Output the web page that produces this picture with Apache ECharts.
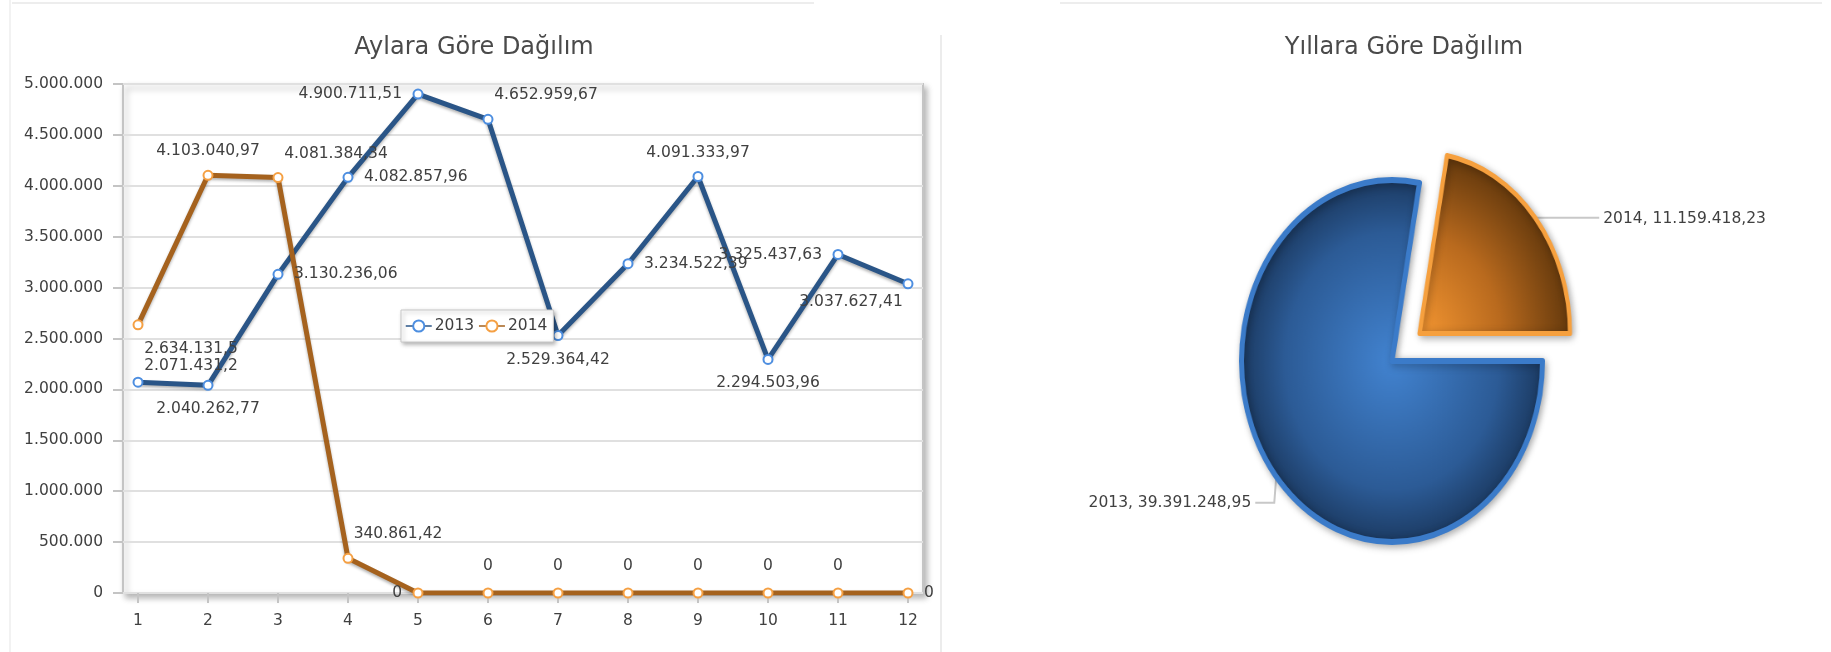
<!DOCTYPE html>
<html>
<head>
<meta charset="utf-8">
<script src="https://cdn.jsdelivr.net/npm/echarts@6/dist/echarts.min.js"></script>
<style>
  html, body { margin: 0; padding: 0; background: #fff; }
  #main { position: absolute; left: 0; top: 0; width: 1831px; height: 652px; }
  #pie { position: absolute; left: 1092px; top: 111px; width: 600px; height: 500px;
         transform: scaleX(0.8315); transform-origin: 50% 50%; }
</style>
</head>
<body>
<div id="main"></div>
<div id="pie"></div>
<script>
// ---------------- data ----------------
const months = ['1', '2', '3', '4', '5', '6', '7', '8', '9', '10', '11', '12'];
const sales2013 = [2071431.2, 2040262.77, 3130236.06, 4082857.96, 4900711.51, 4652959.67,
                   2529364.42, 3234522.39, 4091333.97, 2294503.96, 3325437.63, 3037627.41];
const sales2014 = [2634131.5, 4103040.97, 4081384.34, 340861.42, 0, 0, 0, 0, 0, 0, 0, 0];
const years = ['2013', '2014'];
const yearTotals = [39391248.95, 11159418.23];
const yTicks = { min: 0, max: 5000000, interval: 500000 };
const titleLeft = 'Aylara Göre Dağılım';
const titleRight = 'Yıllara Göre Dağılım';

// ---------------- styles ----------------
const FONT = '"DejaVu Sans", Verdana, sans-serif';
const FS = 15.5;
const TXT = '#404040';
// label placement per point (style only)
const lab2013 = [
  { position: 'top', offset: [53, 8] }, { position: 'bottom' }, { position: 'right' }, { position: 'right' },
  { position: 'left' }, { position: 'top', offset: [58, 0] }, { position: 'bottom' }, { position: 'right' },
  { position: 'top' }, { position: 'bottom' }, { position: 'left' }, { position: 'bottom', offset: [-57, -6] }
];
const lab2014 = [
  { position: 'bottom', offset: [53, 0] }, { position: 'top' }, { position: 'top', offset: [58, 0] },
  { position: 'top', offset: [50, 0] }, { position: 'left' },
  { position: 'top', offset: [0, -3] }, { position: 'top', offset: [0, -3] }, { position: 'top', offset: [0, -3] },
  { position: 'top', offset: [0, -3] }, { position: 'top', offset: [0, -3] }, { position: 'top', offset: [0, -3] },
  { position: 'right' }
];
const PIE_CX = 1392, PIE_CY = 361, PIE_SX = 0.8315, PIE_R = 181, PIE_OFF = 43, PIE_SEL = 1;

function fmtTR(v) {
  const s = String(v).split('.');
  const i = s[0].replace(/\B(?=(\d{3})+(?!\d))/g, '.');
  return s[1] ? i + ',' + s[1] : i;
}

function lineData(vals, labs) {
  return vals.map((v, i) => ({ value: v, label: labs[i] }));
}

const main = echarts.init(document.getElementById('main'), null, { renderer: 'canvas' });
main.setOption({
  backgroundColor: '#ffffff',
  animation: false,
  textStyle: { fontFamily: FONT },
  graphic: [
    { type: 'line', shape: { x1: 12, y1: 3, x2: 814, y2: 3 }, style: { stroke: '#ededed', lineWidth: 2 }, silent: true },
    { type: 'line', shape: { x1: 1060, y1: 3, x2: 1822, y2: 3 }, style: { stroke: '#ededed', lineWidth: 2 }, silent: true },
    { type: 'line', shape: { x1: 10, y1: 0, x2: 10, y2: 652 }, style: { stroke: '#f2f2f2', lineWidth: 2 }, silent: true },
    { type: 'line', shape: { x1: 941, y1: 35, x2: 941, y2: 652 }, style: { stroke: '#ececec', lineWidth: 2 }, silent: true },
    { type: 'text', x: 474, y: 48, silent: true,
      style: { text: titleLeft, fontFamily: FONT, fontSize: 24, fill: '#4a4a4a', align: 'center', verticalAlign: 'middle' } },
    { type: 'text', x: 1404, y: 48, silent: true,
      style: { text: titleRight, fontFamily: FONT, fontSize: 24, fill: '#4a4a4a', align: 'center', verticalAlign: 'middle' } }
  ],
  legend: {
    data: years.map(y => ({ name: y })),
    left: 401, top: 310,
    orient: 'horizontal',
    padding: [8, 6, 8, 4],
    itemGap: 4,
    itemWidth: 26, itemHeight: 14,
    backgroundColor: '#ffffff',
    borderColor: '#c8c8c8', borderWidth: 1,
    shadowColor: 'rgba(0,0,0,0.3)', shadowBlur: 4, shadowOffsetX: 2, shadowOffsetY: 2,
    lineStyle: { width: 1.5 },
    itemStyle: { borderWidth: 1.5 },
    textStyle: { fontFamily: FONT, fontSize: FS, color: TXT, padding: [0, 0, 0, -2] },
    selectedMode: false
  },
  grid: [
    { left: 123, right: 1831 - 923, top: 84, bottom: 652 - 593, show: true,
      backgroundColor: '#ffffff', borderColor: '#c4c4c4', borderWidth: 2,
      shadowColor: 'rgba(0,0,0,0.28)', shadowBlur: 6, shadowOffsetX: 3, shadowOffsetY: 4 },
    { left: 138, right: 1831 - 908, top: 84, bottom: 652 - 593 }
  ],
  xAxis: [
    { gridIndex: 0, type: 'value', min: 0, max: 1, show: false },
    { gridIndex: 1, type: 'category', data: months, boundaryGap: false,
      axisLine: { show: false },
      axisTick: { show: true, length: 10, lineStyle: { color: '#c4c4c4', width: 2 } },
      axisLabel: { margin: 20, fontFamily: FONT, fontSize: FS, color: TXT },
      splitLine: { show: false } }
  ],
  yAxis: [
    { gridIndex: 0, type: 'value', min: yTicks.min, max: yTicks.max, interval: yTicks.interval,
      axisLine: { show: false },
      axisTick: { show: true, length: 10, lineStyle: { color: '#c4c4c4', width: 2 } },
      axisLabel: { margin: 20, fontFamily: FONT, fontSize: FS, color: TXT, formatter: v => fmtTR(v) },
      splitLine: { show: true, lineStyle: { color: '#e0e0e0', width: 2 } } },
    { gridIndex: 1, type: 'value', min: yTicks.min, max: yTicks.max, interval: yTicks.interval, show: false,
      splitLine: { show: false } }
  ],
  series: [
    { type: 'line', name: years[0], xAxisIndex: 1, yAxisIndex: 1,
      data: lineData(sales2013, lab2013),
      symbol: 'emptyCircle', symbolSize: 9, z: 3,
      lineStyle: { color: '#2a5587', width: 5, shadowColor: 'rgba(0,0,0,0.3)', shadowBlur: 3, shadowOffsetY: 2 },
      itemStyle: { color: '#4d8ee0', borderWidth: 2 },
      label: { show: true, distance: 10.5, fontFamily: FONT, fontSize: FS, color: TXT,
               formatter: p => fmtTR(p.value) },
      emphasis: { disabled: true } },
    { type: 'line', name: years[1], xAxisIndex: 1, yAxisIndex: 1,
      data: lineData(sales2014, lab2014),
      symbol: 'emptyCircle', symbolSize: 9, z: 3,
      lineStyle: { color: '#a5621e', width: 5, shadowColor: 'rgba(0,0,0,0.3)', shadowBlur: 3, shadowOffsetY: 2 },
      itemStyle: { color: '#f5a043', borderWidth: 2 },
      label: { show: true, distance: 10.5, fontFamily: FONT, fontSize: FS, color: TXT,
               formatter: p => fmtTR(p.value) },
      emphasis: { disabled: true } },
    // labels of the pie (slices themselves are drawn in the #pie chart, horizontally squeezed)
    { type: 'pie', name: 'pieLabels', center: [PIE_CX, PIE_CY], radius: PIE_R,
      startAngle: 0, clockwise: true, silent: true, legendHoverLink: false,
      selectedMode: false,
      data: years.map((y, i) => ({ name: y, value: yearTotals[i] })),
      itemStyle: { color: 'rgba(0,0,0,0)', borderWidth: 0 },
      label: { show: true, position: 'outside', fontFamily: FONT, fontSize: FS, color: TXT,
               formatter: p => p.name + ', ' + fmtTR(p.value) },
      labelLine: { show: true, length: 10, length2: 10, lineStyle: { color: '#c8c8c8', width: 2 } },
      labelLayout: function (p) {
        const pts = p.labelLinePoints;
        if (!pts) return {};
        let px = pts[0][0], py = pts[0][1];
        if (p.dataIndex === PIE_SEL) {
          const a = Math.atan2(py - PIE_CY, px - PIE_CX);
          px += PIE_OFF * Math.cos(a);
          py += PIE_OFF * Math.sin(a);
        }
        const x0 = PIE_CX + (px - PIE_CX) * PIE_SX, y0 = py;
        if (x0 > PIE_CX) {
          return { x: x0 + 68, y: y0 + 1, align: 'left', verticalAlign: 'middle',
                   labelLinePoints: [[x0, y0], [x0 + 34, y0], [x0 + 64, y0]] };
        }
        return { x: x0 - 25, y: y0 + 26, align: 'right', verticalAlign: 'middle',
                 labelLinePoints: [[x0, y0], [x0 - 2, y0 + 26], [x0 - 21, y0 + 26]] };
      },
      emphasis: { disabled: true } }
  ]
});

const pie = echarts.init(document.getElementById('pie'), null, { renderer: 'canvas' });
const sliceStyles = [
  { color: new echarts.graphic.RadialGradient(0.5, 0.5, 0.5, [
      { offset: 0, color: '#4283d0' }, { offset: 0.7, color: '#2c5b96' }, { offset: 1, color: '#1b3960' }]),
    borderColor: '#3b7bc9', borderWidth: 6 },
  { color: new echarts.graphic.RadialGradient(0, 1, 1, [
      { offset: 0, color: '#f59732' }, { offset: 0.55, color: '#b96a1e' }, { offset: 1, color: '#663a0d' }]),
    borderColor: '#f6a03e', borderWidth: 5 }
];
pie.setOption({
  animation: false,
  series: [{
    type: 'pie', center: ['50%', '50%'], radius: PIE_R,
    startAngle: 0, clockwise: true, silent: true,
    selectedMode: 'single', selectedOffset: PIE_OFF,
    data: years.map((y, i) => ({
      name: y, value: yearTotals[i], selected: i === PIE_SEL,
      itemStyle: Object.assign({ shadowColor: 'rgba(0,0,0,0.3)', shadowBlur: 8, shadowOffsetX: 2, shadowOffsetY: 2 }, sliceStyles[i])
    })),
    label: { show: false }, labelLine: { show: false },
    emphasis: { disabled: true }
  }]
});
</script>
</body>
</html>
